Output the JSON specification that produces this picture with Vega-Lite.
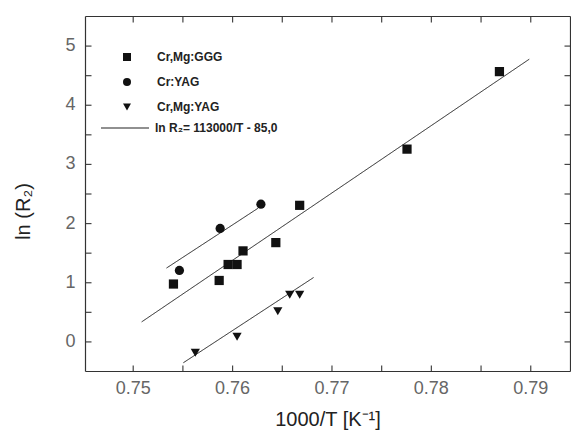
{
  "$schema": "https://vega.github.io/schema/vega-lite/v6.json",
  "width": 485,
  "height": 355,
  "autosize": {"type": "none"},
  "padding": {"left": 85, "top": 16, "right": 1, "bottom": 66},
  "background": "white",
  "config": {
    "view": {"stroke": null},
    "font": "Liberation Sans",
    "axis": {"grid": false, "domainColor": "#333", "domainWidth": 1.2, "zindex": 1, "tickRound": false, "tickOpacity": 1}
  },
  "datasets": {
    "pts": [
      {"series": "Cr,Mg:GGG", "x": 0.7541, "y": 0.97},
      {"series": "Cr,Mg:GGG", "x": 0.7587, "y": 1.03},
      {"series": "Cr,Mg:GGG", "x": 0.7596, "y": 1.30},
      {"series": "Cr,Mg:GGG", "x": 0.7605, "y": 1.30},
      {"series": "Cr,Mg:GGG", "x": 0.7611, "y": 1.53},
      {"series": "Cr,Mg:GGG", "x": 0.7644, "y": 1.67},
      {"series": "Cr,Mg:GGG", "x": 0.7668, "y": 2.30},
      {"series": "Cr,Mg:GGG", "x": 0.7776, "y": 3.25},
      {"series": "Cr,Mg:GGG", "x": 0.7869, "y": 4.56},
      {"series": "Cr:YAG", "x": 0.7547, "y": 1.20},
      {"series": "Cr:YAG", "x": 0.7588, "y": 1.91},
      {"series": "Cr:YAG", "x": 0.7629, "y": 2.32},
      {"series": "Cr,Mg:YAG", "x": 0.7563, "y": -0.19},
      {"series": "Cr,Mg:YAG", "x": 0.7605, "y": 0.08},
      {"series": "Cr,Mg:YAG", "x": 0.7646, "y": 0.51},
      {"series": "Cr,Mg:YAG", "x": 0.7658, "y": 0.79},
      {"series": "Cr,Mg:YAG", "x": 0.7668, "y": 0.79}
    ],
    "fits": [
      {"line": "GGG", "x": 0.7509, "y": 0.33},
      {"line": "GGG", "x": 0.7899, "y": 4.77},
      {"line": "YAG", "x": 0.7534, "y": 1.24},
      {"line": "YAG", "x": 0.7626, "y": 2.25},
      {"line": "MgYAG", "x": 0.7551, "y": -0.36},
      {"line": "MgYAG", "x": 0.7682, "y": 1.08}
    ]
  },
  "resolve": {"axis": {"x": "independent", "y": "independent"}},
  "layer": [
    {
      "data": {"name": "fits"},
      "mark": {"type": "line", "color": "#222", "strokeWidth": 1},
      "encoding": {
        "x": {"field": "x", "type": "quantitative", "scale": {"domain": [0.7452, 0.794], "nice": false, "zero": false},
          "axis": {"orient": "bottom", "values": [0.75, 0.755, 0.76, 0.765, 0.77, 0.775, 0.78, 0.785, 0.79],
            "labelExpr": "abs(datum.value*100 - round(datum.value*100)) < 0.01 ? format(datum.value, '.2f') : ''",
            "ticks": true, "tickSize": -6, "tickColor": "#444", "tickWidth": 1.2,
            "labelPadding": 14, "labelFontSize": 18, "labelColor": "#666", "labelFlush": false,
            "title": "1000/T [K⁻¹]", "titleFontSize": 20, "titleFontWeight": "normal", "titleColor": "#222", "titlePadding": 12}},
        "y": {"field": "y", "type": "quantitative", "scale": {"domain": [-0.5, 5.5], "nice": false, "zero": false},
          "axis": {"orient": "left", "values": [0, 0.5, 1, 1.5, 2, 2.5, 3, 3.5, 4, 4.5, 5],
            "labelExpr": "abs(datum.value - round(datum.value)) < 0.01 ? format(datum.value, 'd') : ''",
            "ticks": true, "tickSize": -6, "tickColor": "#444", "tickWidth": 1.2,
            "labelPadding": 16, "labelFontSize": 18, "labelColor": "#666", "labelFlush": false,
            "title": "ln (R₂)", "titleFontSize": 20, "titleFontWeight": "normal", "titleColor": "#222", "titleX": -52, "titleY": 195}},
        "detail": {"field": "line"},
        "strokeDash": {"datum": "ln R₂= 113000/T - 85,0", "type": "nominal",
          "scale": {"range": [[1, 0]]},
          "legend": {"orient": "none", "legendX": 15, "legendY": 87, "title": null, "symbolSize": 2304,
            "symbolType": "stroke", "symbolStrokeColor": "#222", "symbolStrokeWidth": 1.2,
            "labelFontSize": 12, "labelFontWeight": "bold", "labelColor": "#222", "labelOffset": 5, "labelLimit": 0, "padding": 0}}
      }
    },
    {
      "data": {"name": "pts"},
      "mark": {"type": "point", "filled": true, "opacity": 1, "color": "#111", "size": 85},
      "encoding": {
        "x": {"field": "x", "type": "quantitative",
          "axis": {"orient": "top", "values": [0.75, 0.755, 0.76, 0.765, 0.77, 0.775, 0.78, 0.785, 0.79], "labels": false, "title": null,
            "ticks": true, "tickSize": -6, "tickColor": "#444", "tickWidth": 1.2}},
        "y": {"field": "y", "type": "quantitative",
          "axis": {"orient": "right", "values": [0, 0.5, 1, 1.5, 2, 2.5, 3, 3.5, 4, 4.5, 5], "labels": false, "title": null,
            "ticks": true, "tickSize": -6, "tickColor": "#444", "tickWidth": 1.2}},
        "shape": {"field": "series", "type": "nominal",
          "scale": {"domain": ["Cr,Mg:GGG", "Cr:YAG", "Cr,Mg:YAG"],
                    "range": ["square", "circle", "triangle-down"]},
          "legend": {"orient": "none", "legendX": 36, "legendY": 35, "title": null, "symbolSize": 64,
            "symbolFillColor": "#111", "symbolStrokeColor": "#111",
            "labelFontSize": 12, "labelFontWeight": "bold", "labelColor": "#222", "labelOffset": 24, "labelLimit": 0,
            "rowPadding": 11, "padding": 0}}
      }
    }
  ]
}
